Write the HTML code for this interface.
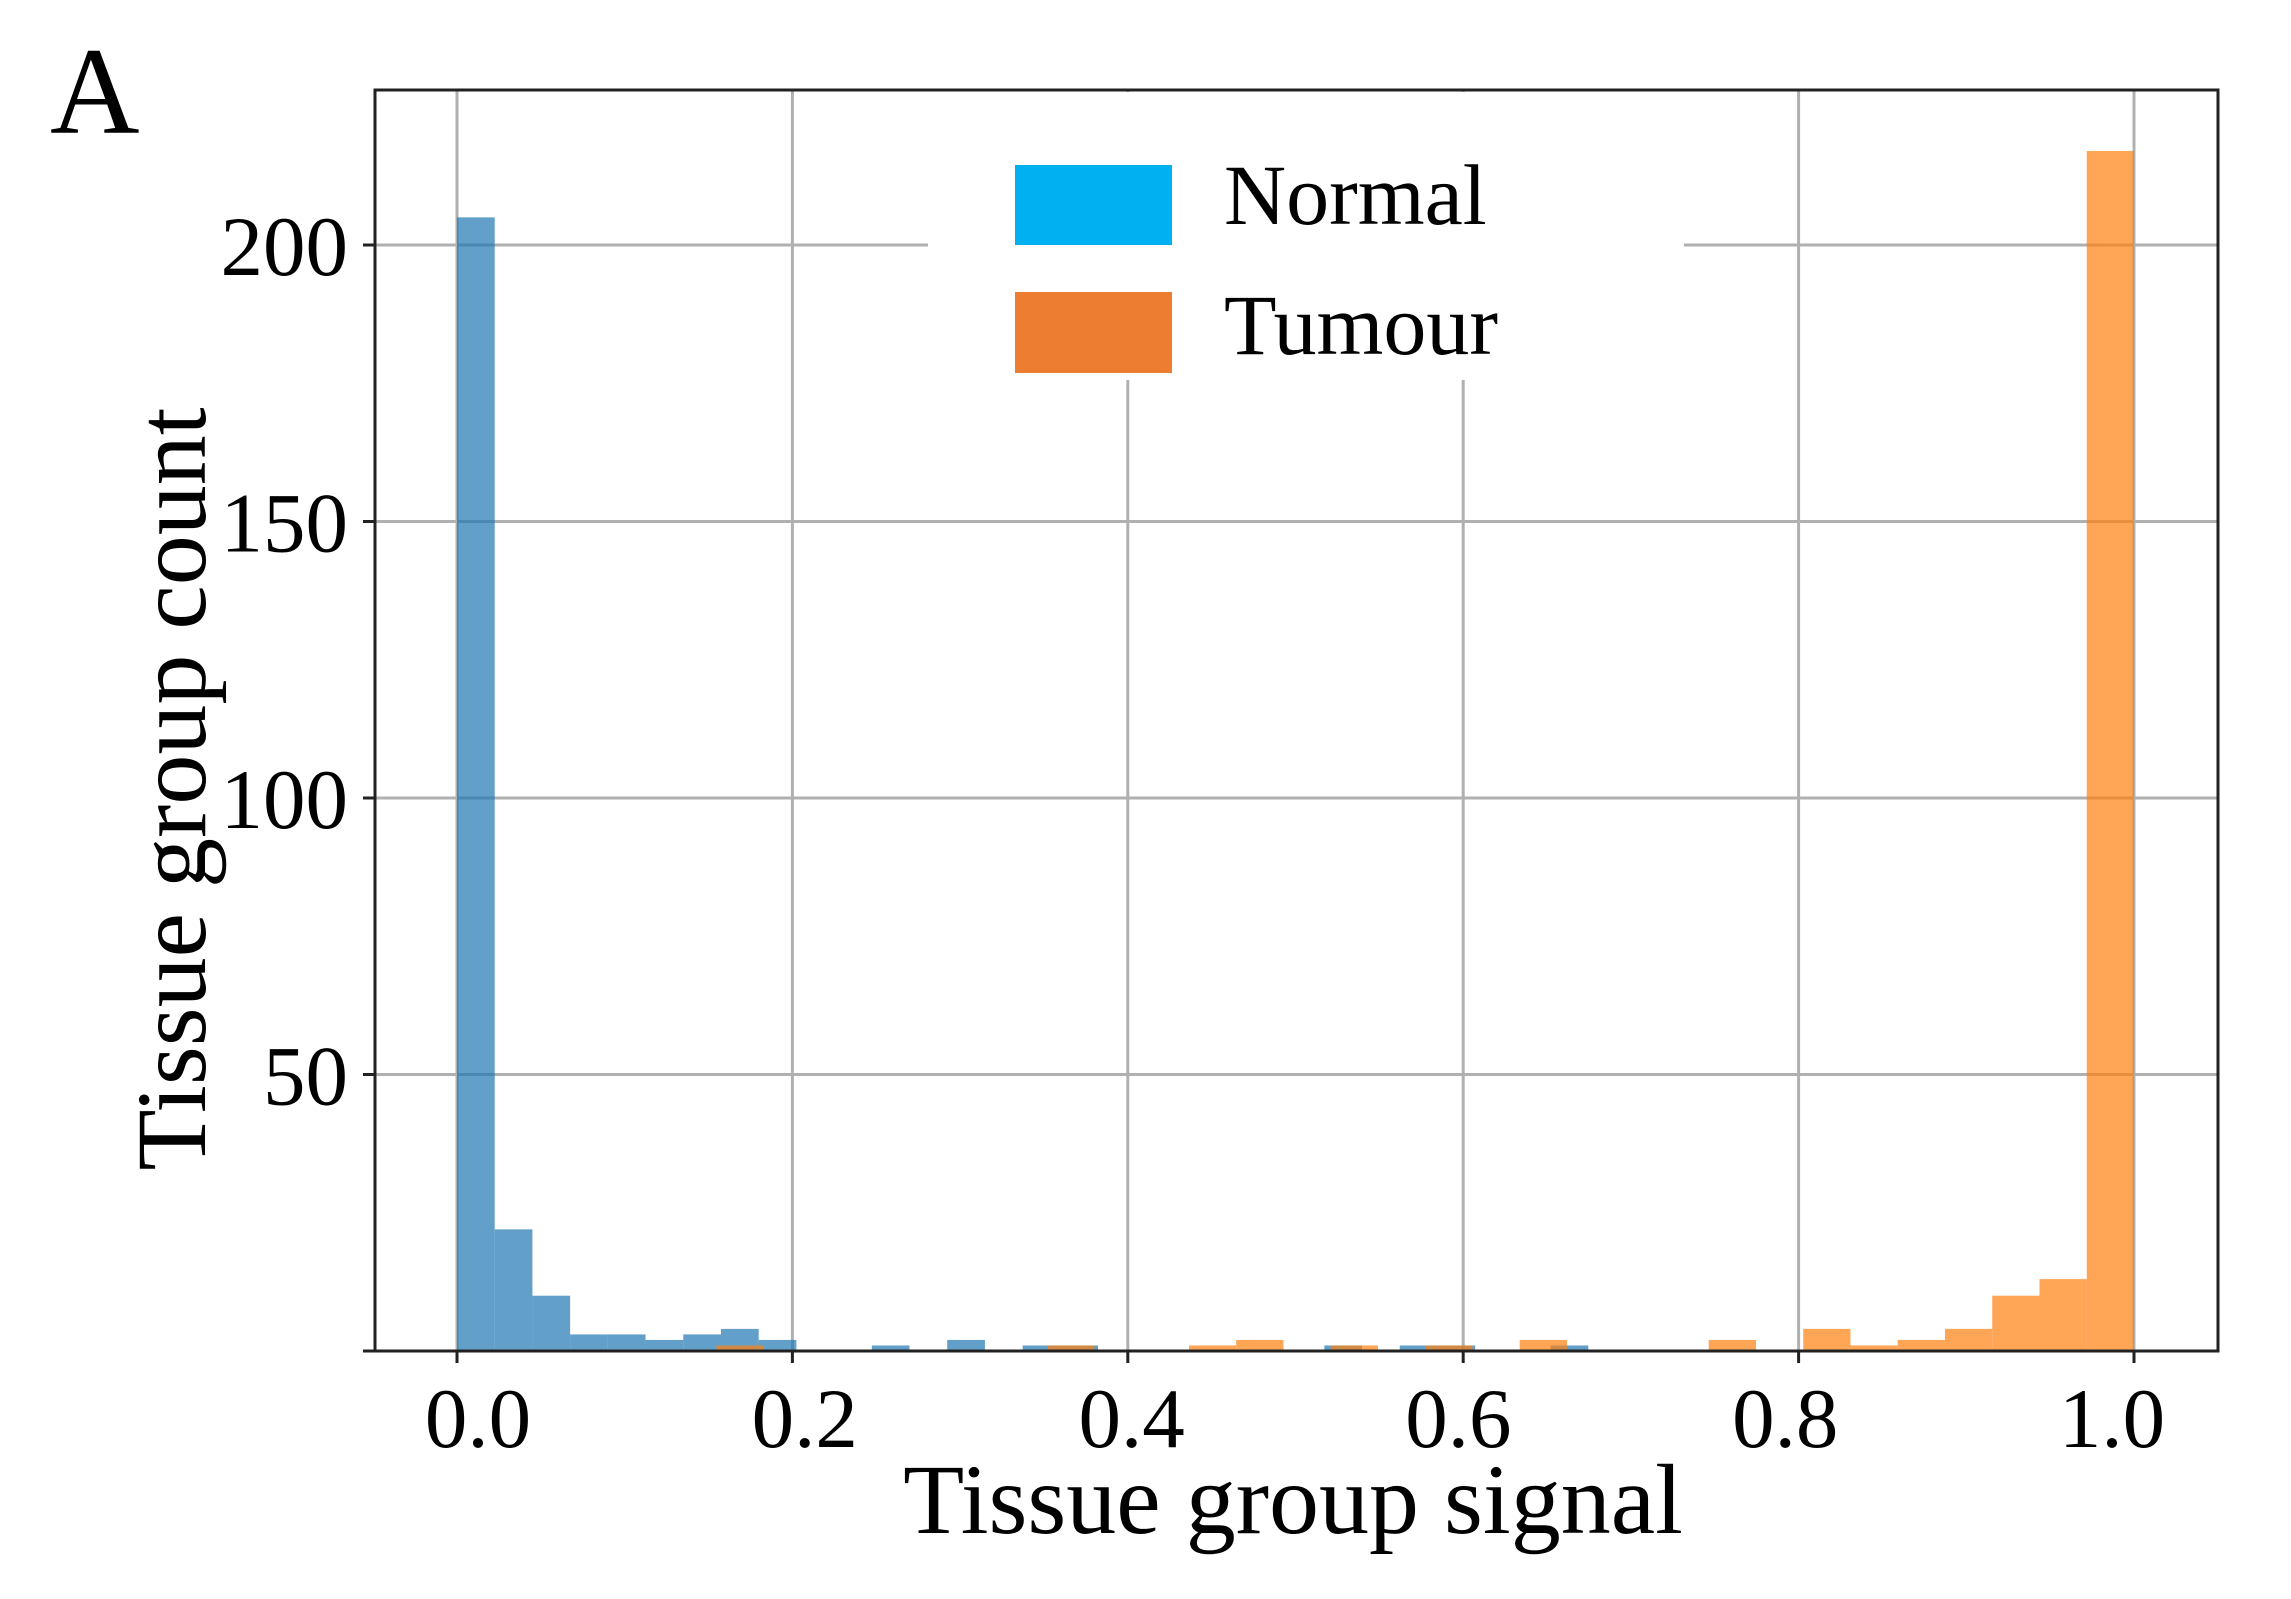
<!DOCTYPE html>
<html><head><meta charset="utf-8"><style>
html,body{margin:0;padding:0;background:#fff;}
svg{display:block;font-family:"Liberation Serif",serif;}
</style></head><body>
<svg id="chart" width="2291" height="1599" viewBox="0 0 2291 1599" xmlns="http://www.w3.org/2000/svg">
<rect width="2291" height="1599" fill="#fff"/>
<g id="grid"></g>
<g id="bars"></g>
<g id="legend"></g>
<g id="axes"></g>
</svg>
<script>
const normalCounts = [205,22,10,3,3,2,3,4,2,0,0,1,0,2,0,1,1,0,0,0,0,0,0,1,0,1,1,0,0,1];
const normalRange = [0, 0.6746];
const tumourCounts = [1,0,0,0,0,0,0,1,0,0,1,2,0,1,0,1,0,2,0,0,0,2,0,4,1,2,4,10,13,217];
const tumourRange = [0.1547, 1.0];
const xTicks = [0, 0.2, 0.4, 0.6, 0.8, 1.0];
const xTickLabels = ["0.0","0.2","0.4","0.6","0.8","1.0"];
const yTicks = [50, 100, 150, 200];
const yTickLabels = ["50","100","150","200"];

const NS = "http://www.w3.org/2000/svg";
const L = 375, R = 2218, T = 90, B = 1351;
const X0 = 457, X1 = 2134;
const YMAXPX = 245;
function xs(v){ return X0 + v * (X1 - X0); }
function ys(v){ return B - v * (B - YMAXPX) / 200; }
function mk(tag, attrs, parent){ const e = document.createElementNS(NS, tag); for (const k in attrs) e.setAttribute(k, attrs[k]); parent.appendChild(e); return e; }

const grid = document.getElementById('grid');
const bars = document.getElementById('bars');
const axes = document.getElementById('axes');

xTicks.forEach((t, i) => {
  const g = mk('line', {x1: xs(t), x2: xs(t), y1: T, y2: B, stroke: '#b0b0b0', 'stroke-width': 3}, grid);
  
  
  const tk = mk('line', {x1: xs(t), x2: xs(t), y1: B, y2: B + 12, stroke: '#222', 'stroke-width': 3}, axes);
  
  
  const lb = mk('text', {x: xs(t) + 21 - 43 * t, y: 1447, 'text-anchor': 'middle', 'font-size': 85, fill: '#000'}, axes);
  lb.textContent = xTickLabels[i];
  
  
});
yTicks.forEach((t, i) => {
  const g = mk('line', {x1: L, x2: R, y1: ys(t), y2: ys(t), stroke: '#b0b0b0', 'stroke-width': 3}, grid);
  
  
  const tk = mk('line', {x1: L - 12, x2: L, y1: ys(t), y2: ys(t), stroke: '#222', 'stroke-width': 3}, axes);
  
  
  const lb = mk('text', {x: 348, y: ys(t) + 30, 'text-anchor': 'end', 'font-size': 85, fill: '#000'}, axes);
  lb.textContent = yTickLabels[i];
  
  
});
{
  const tk = mk('line', {x1: L - 12, x2: L, y1: B, y2: B, stroke: '#222', 'stroke-width': 3}, axes);
  
  
}

function drawHist(counts, range, color, name){
  const w = (range[1] - range[0]) / counts.length;
  counts.forEach((c, i) => {
    if (c <= 0) return;
    const a = xs(range[0] + i * w), b = xs(range[0] + (i + 1) * w);
    const r = mk('rect', {x: a, y: ys(c), width: b - a, height: B - ys(c), fill: color, 'fill-opacity': 0.7}, bars);
    
    
  });
}
drawHist(normalCounts, normalRange, '#1f77b4', 'normal-bar');
drawHist(tumourCounts, tumourRange, '#ff7f0e', 'tumour-bar');
</script>
<script>
(function(){
  const NS = "http://www.w3.org/2000/svg";
  const legend = document.getElementById('legend');
  const axes = document.getElementById('axes');
  function mk(tag, attrs, parent){ const e = document.createElementNS(NS, tag); for (const k in attrs) e.setAttribute(k, attrs[k]); parent.appendChild(e); return e; }
  const box = mk('rect', {x: 928, y: 92, width: 756, height: 288, fill: '#fff'}, legend);
  
  
  const p1 = mk('rect', {x: 1015, y: 165, width: 157, height: 80, fill: '#00b0f0'}, legend);
  
  
  const t1 = mk('text', {x: 1224, y: 224, 'font-size': 86, fill: '#000'}, legend);
  t1.textContent = 'Normal';
  
  
  const p2 = mk('rect', {x: 1015, y: 292, width: 157, height: 81, fill: '#ed7d31'}, legend);
  
  
  const t2 = mk('text', {x: 1224, y: 354, 'font-size': 86, fill: '#000'}, legend);
  t2.textContent = 'Tumour';
  
  

  const frame = mk('rect', {x: 375, y: 90, width: 1843, height: 1261, fill: 'none', stroke: '#222', 'stroke-width': 3}, axes);
  
  
  const xl = mk('text', {x: 1293, y: 1533, 'text-anchor': 'middle', 'font-size': 100, fill: '#000'}, axes);
  xl.textContent = 'Tissue group signal';
  
  
  const yl = mk('text', {x: 0, y: 0, 'text-anchor': 'middle', 'font-size': 100, fill: '#000', transform: 'translate(205,789) rotate(-90)'}, axes);
  yl.textContent = 'Tissue group count';
  
  
  const pa = mk('text', {x: 50, y: 133, 'font-size': 124, fill: '#000'}, axes);
  pa.textContent = 'A';
  
  
})();
</script>
</body></html>
